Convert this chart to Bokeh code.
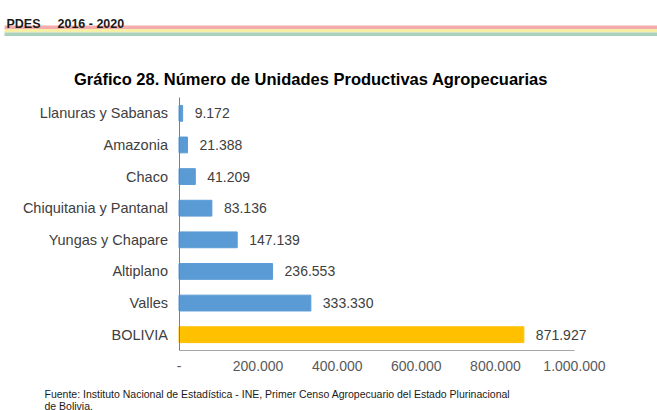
from bokeh.plotting import figure
from bokeh.models import ColumnDataSource, Range1d, FixedTicker, Label, BoxAnnotation
from bokeh.core.properties import value
from bokeh.embed import file_html
from bokeh.resources import INLINE

categories = ["Llanuras y Sabanas", "Amazonia", "Chaco", "Chiquitania y Pantanal",
              "Yungas y Chapare", "Altiplano", "Valles", "BOLIVIA"]
values = [9172, 21388, 41209, 83136, 147139, 236553, 333330, 871927]
value_labels = ["9.172", "21.388", "41.209", "83.136", "147.139", "236.553", "333.330", "871.927"]
bar_colors = ["#5B9BD5"] * 7 + ["#FFC000"]
tick_values = [0, 200000, 400000, 600000, 800000, 1000000]
tick_labels = ["-", "200.000", "400.000", "600.000", "800.000", "1.000.000"]

header_left = "PDES"
header_right = "2016 - 2020"
title_text = "Gráfico 28. Número de Unidades Productivas Agropecuarias"
source_line1 = "Fuente: Instituto Nacional de Estadística - INE, Primer Censo Agropecuario del Estado Plurinacional"
source_line2 = "de Bolivia."

W, H = 657, 410
FONT = "Liberation Sans"

# layout of the plotting area (pixels)
AX_LEFT, AX_RIGHT = 178.5, 574.0        # x of value 0 and of x_max
AX_TOP, AX_BOTTOM = 97.0, 350.0         # top and bottom of category band
x_max = tick_values[-1]
n = len(categories)
px_per_val = (AX_RIGHT - AX_LEFT) / x_max
px_per_cat = (AX_BOTTOM - AX_TOP) / n

x_range = Range1d(-AX_LEFT / px_per_val, (W - AX_LEFT) / px_per_val)
# category index i is centred at AX_TOP + (i + 0.5) * px_per_cat ; y grows downward
y_top = -(AX_TOP / px_per_cat) - 0.5
y_bot = (H - AX_TOP) / px_per_cat - 0.5
y_range = Range1d(y_bot, y_top)

idx = list(range(n))
src = ColumnDataSource(dict(i=idx, val=values, lab=value_labels, color=bar_colors))

p = figure(width=W, height=H, output_backend="svg", toolbar_location=None,
           x_range=x_range, y_range=y_range, min_border=0)
p.outline_line_color = None
p.background_fill_color = "white"
p.border_fill_color = "white"
p.grid.visible = False

p.hbar(y="i", right="val", left=0, height=0.5, color="color", source=src)
p.text(x="val", y="i", text="lab", source=src, x_offset=12,
       text_align="left", text_baseline="middle", text_font=value(FONT),
       text_font_size="14px", text_color="#404040")

xa = p.xaxis[0]
xa.fixed_location = n - 0.5
xa.bounds = (0, x_max)
xa.ticker = FixedTicker(ticks=tick_values)
xa.major_label_overrides = {v: l for v, l in zip(tick_values, tick_labels)}
xa.axis_line_color = "#A6A6A6"
xa.major_tick_line_color = None
xa.minor_tick_line_color = None
xa.major_tick_out = 0
xa.major_tick_in = 0
xa.major_label_standoff = 10
xa.major_label_text_font = FONT
xa.major_label_text_font_size = "14px"
xa.major_label_text_color = "#595959"

ya = p.yaxis[0]
ya.fixed_location = 0
ya.bounds = (-0.5, n - 0.5)
ya.ticker = FixedTicker(ticks=idx)
ya.major_label_overrides = {i: c for i, c in zip(idx, categories)}
ya.axis_line_color = "#7F7F7F"
ya.major_tick_line_color = None
ya.minor_tick_line_color = None
ya.major_tick_out = 0
ya.major_tick_in = 0
ya.major_label_standoff = 11
ya.major_label_text_font = FONT
ya.major_label_text_font_size = "14.5px"
ya.major_label_text_color = "#404040"


def sy(y):
    # page pixel (from top) -> screen units (from bottom)
    return H - y


# header stripes
for top, bot, col in [(25, 28.5, "#F4ABAB"), (28.5, 32, "#F7EFA6"), (32, 35.5, "#A9D1BC")]:
    p.add_layout(BoxAnnotation(left=4, right=W, top=sy(top), bottom=sy(bot),
                               left_units="screen", right_units="screen",
                               top_units="screen", bottom_units="screen",
                               fill_color=col, fill_alpha=1.0, line_color=None, level="underlay"))

p.add_layout(Label(x=6, y=sy(23.5), x_units="screen", y_units="screen", text=header_left,
                   text_font=FONT, text_font_style="bold", text_font_size="12.5px",
                   text_color="#1A1A1A", text_baseline="alphabetic"))
p.add_layout(Label(x=57, y=sy(23.5), x_units="screen", y_units="screen", text=header_right,
                   text_font=FONT, text_font_style="bold", text_font_size="12.5px",
                   text_color="#1A1A1A", text_baseline="alphabetic"))
p.add_layout(Label(x=310.5, y=sy(78.3), x_units="screen", y_units="screen", text=title_text,
                   text_font=FONT, text_font_style="bold", text_font_size="16.5px",
                   text_color="#000000", text_align="center", text_baseline="alphabetic"))
p.add_layout(Label(x=44, y=sy(393), x_units="screen", y_units="screen", text=source_line1,
                   text_font=FONT, text_font_size="10.5px",
                   text_color="#1A1A1A", text_baseline="alphabetic"))
p.add_layout(Label(x=44, y=sy(405), x_units="screen", y_units="screen", text=source_line2,
                   text_font=FONT, text_font_size="10.5px",
                   text_color="#1A1A1A", text_baseline="alphabetic"))

open("out.html", "w").write(file_html(p, INLINE))
